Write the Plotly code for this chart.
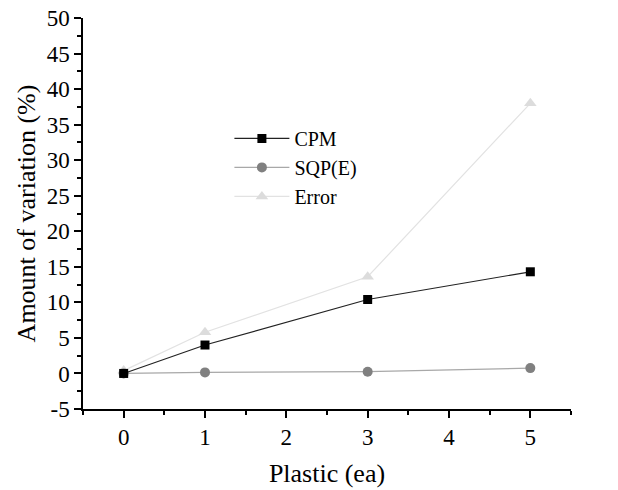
import plotly.graph_objects as go

plastic = [0, 1, 3, 5]
cpm = [0.0, 4.0, 10.4, 14.3]
sqp_e = [0.0, 0.15, 0.25, 0.75]
error = [0.4, 5.8, 13.6, 38.0]

y_tickvals = [-5, 0, 5, 10, 15, 20, 25, 30, 35, 40, 45, 50]
y_ticktext = ["-5", "0", "5", "10", "15", "20", "25", "30", "35", "40", "45", "50"]
x_tickvals = [0, 1, 2, 3, 4, 5]

font_family = "Liberation Serif, Times New Roman, serif"

fig = go.Figure()
fig.add_trace(go.Scatter(x=plastic, y=error, name="Error", mode="lines+markers",
                         line=dict(color="#e2e2e2", width=1.2),
                         marker=dict(symbol="triangle-up", size=11, color="#dcdcdc")))
fig.add_trace(go.Scatter(x=plastic, y=sqp_e, name="SQP(E)", mode="lines+markers",
                         line=dict(color="#a8a8a8", width=1.2),
                         marker=dict(symbol="circle", size=10, color="#808080")))
fig.add_trace(go.Scatter(x=plastic, y=cpm, name="CPM", mode="lines+markers",
                         line=dict(color="#222222", width=1.2),
                         marker=dict(symbol="square", size=9, color="#000000")))

fig.update_layout(
    width=618, height=490,
    margin=dict(l=83, r=47, t=18, b=81),
    paper_bgcolor="white", plot_bgcolor="white",
    font=dict(family=font_family, size=23, color="black"),
    showlegend=True,
    legend=dict(x=0.30, y=0.742, xanchor="left", yanchor="top",
                traceorder="reversed", bgcolor="rgba(0,0,0,0)",
                font=dict(size=20), itemwidth=55, tracegroupgap=0),
    xaxis=dict(range=[-0.5, 5.5], tickvals=x_tickvals, showgrid=False, zeroline=False,
               automargin=False, ticklabeloverflow="allow",
               showline=True, linecolor="black", linewidth=1.5,
               ticks="outside", ticklen=7, tickwidth=1.5, tickcolor="black",
               minor=dict(ticks="outside", ticklen=4, tickwidth=1.5, dtick=0.5, tick0=0, tickcolor="black"),
               title=dict(text="Plastic (ea)", font=dict(size=26), standoff=14),
               tickfont=dict(size=23)),
    yaxis=dict(range=[-5, 50], tickvals=y_tickvals, ticktext=y_ticktext,
               showgrid=False, zeroline=False, automargin=False, ticklabeloverflow="allow",
               showline=True, linecolor="black", linewidth=1.5,
               ticks="outside", ticklen=7, tickwidth=1.5, tickcolor="black",
               minor=dict(ticks="outside", ticklen=4, tickwidth=1.5, dtick=2.5, tick0=0, tickcolor="black"),
               title=dict(text="Amount of variation (%)", font=dict(size=26), standoff=4),
               tickfont=dict(size=23)),
)

fig.write_html("out.html", config={"displayModeBar": False},
               post_script="document.body.style.margin='0px';")
